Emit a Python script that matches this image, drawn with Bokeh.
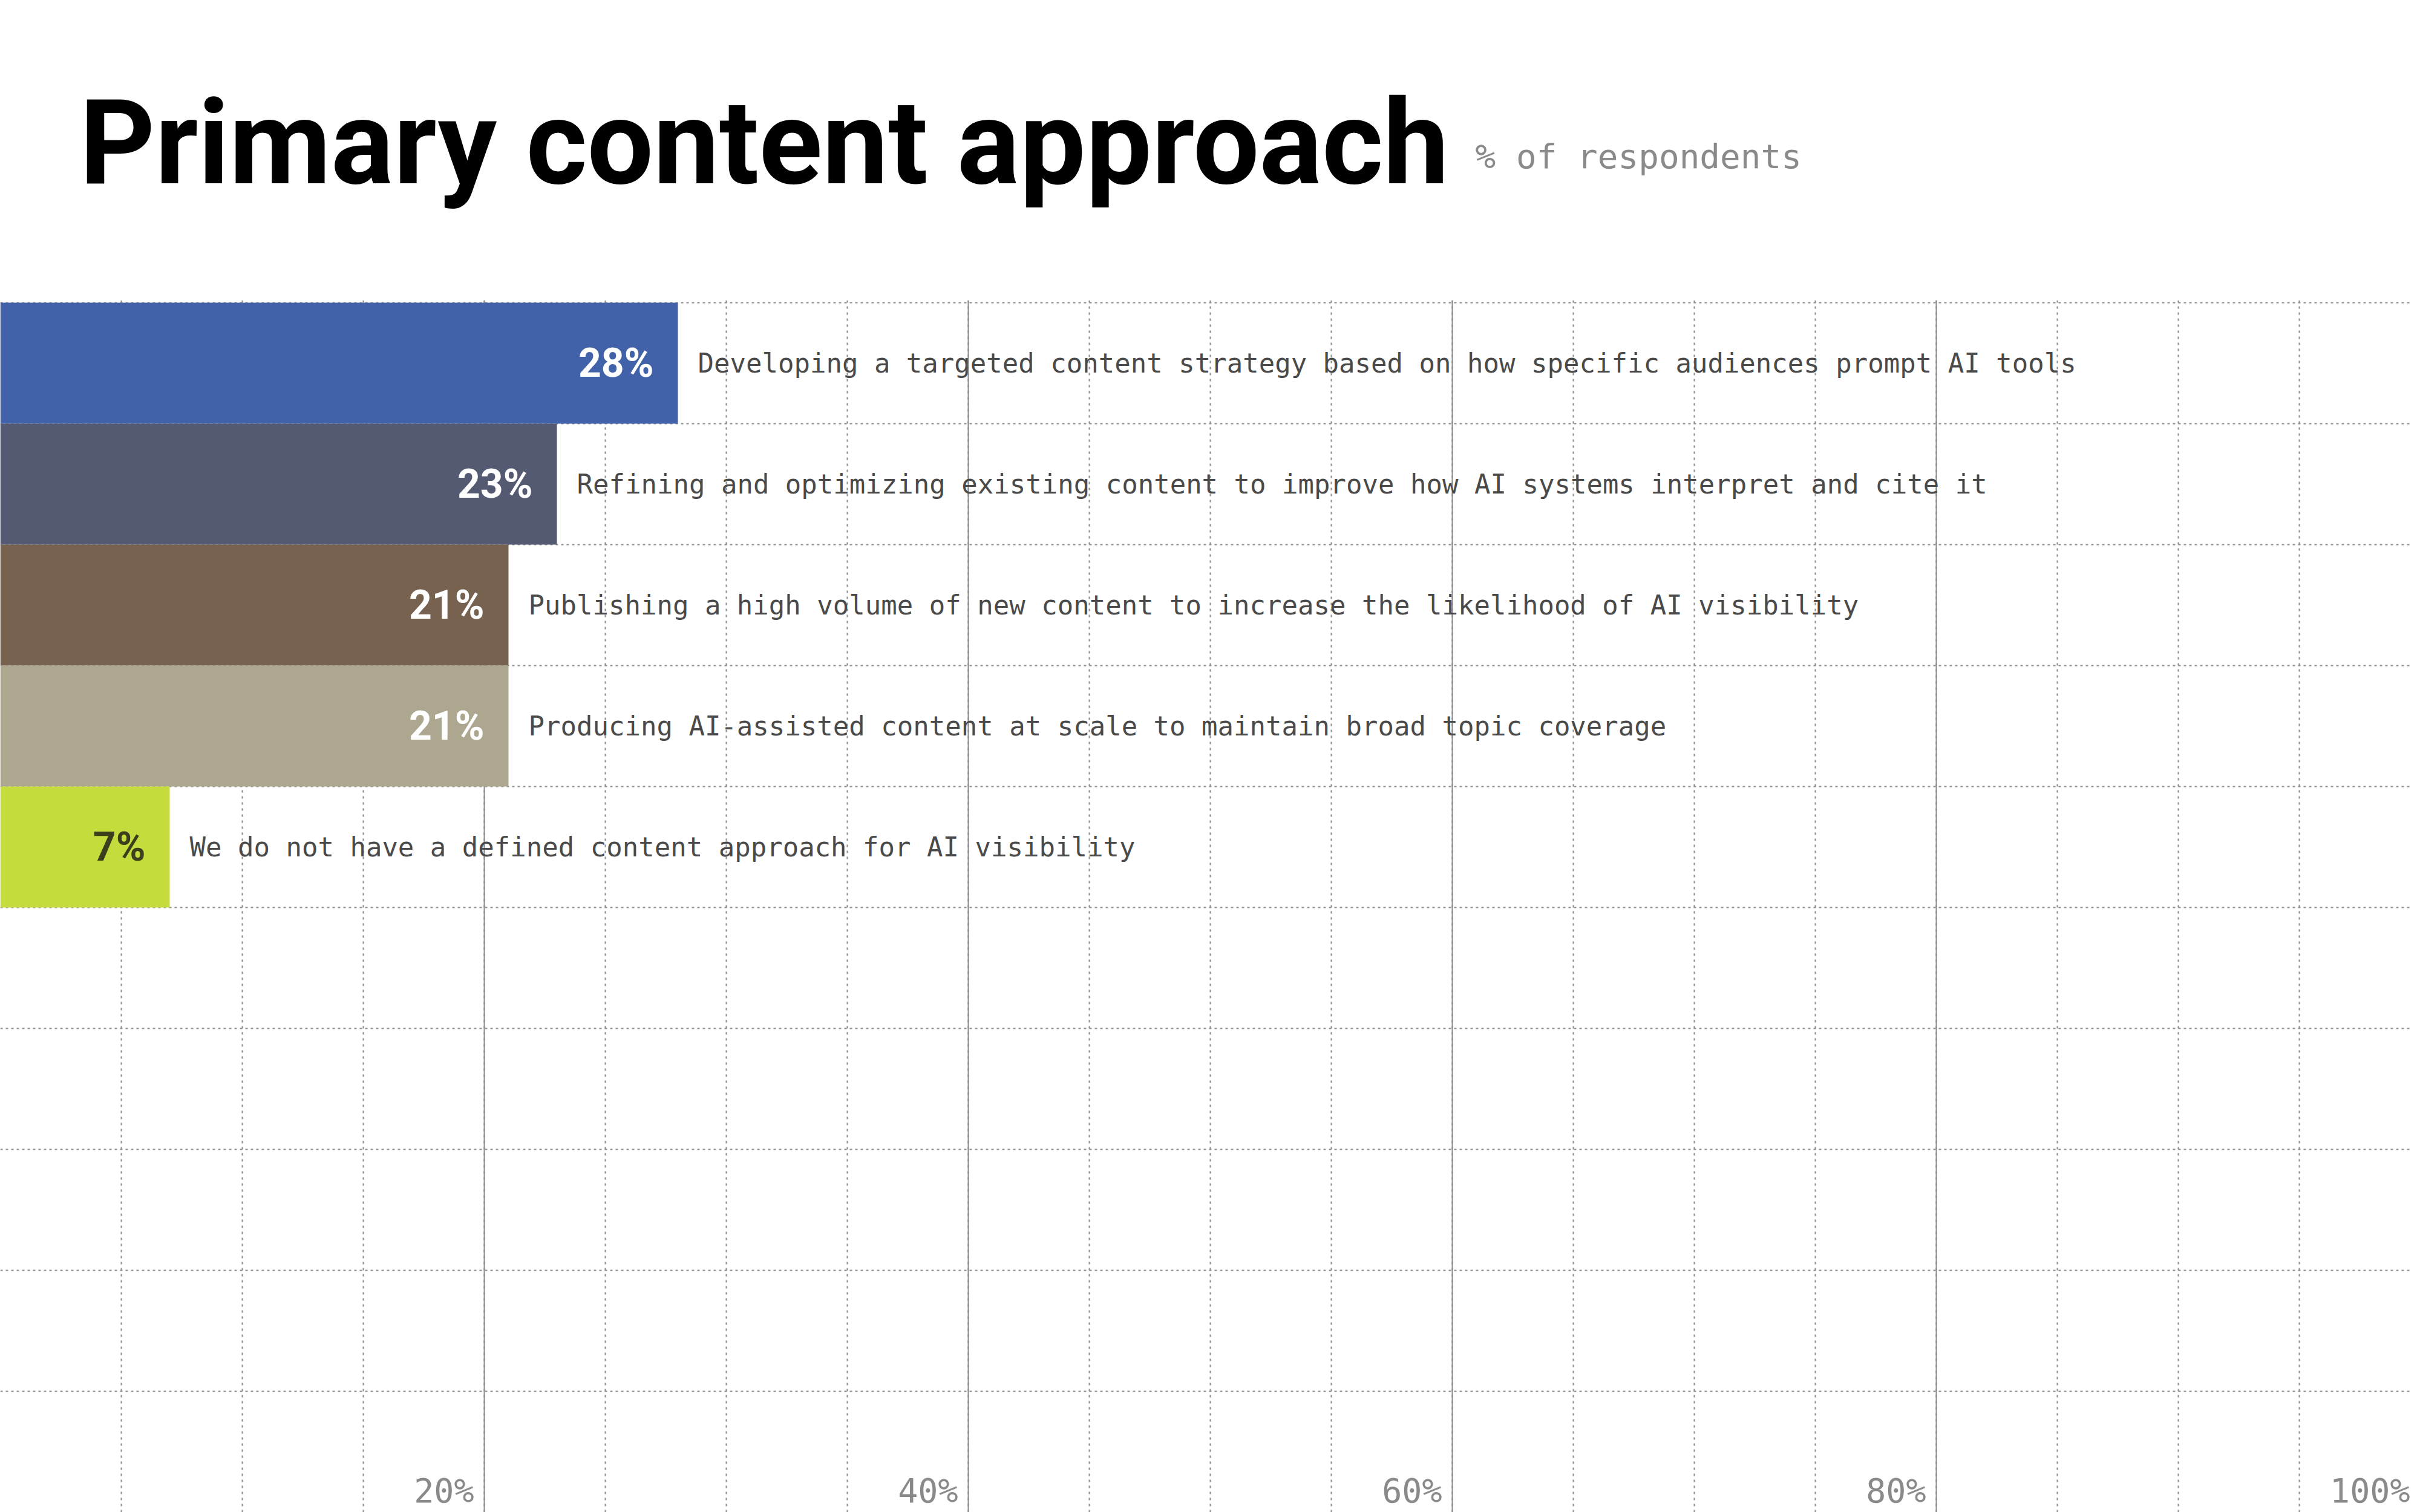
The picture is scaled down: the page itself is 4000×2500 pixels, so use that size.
from bokeh.plotting import figure
from bokeh.models import Range1d, Grid, SingleIntervalTicker, FixedTicker, ColumnDataSource, LabelSet
from bokeh.layouts import column
from bokeh.embed import file_html
from bokeh.resources import INLINE
from bokeh.core.properties import value

# ---- data ----
categories = [
    "Developing a targeted content strategy based on how specific audiences prompt AI tools",
    "Refining and optimizing existing content to improve how AI systems interpret and cite it",
    "Publishing a high volume of new content to increase the likelihood of AI visibility",
    "Producing AI-assisted content at scale to maintain broad topic coverage",
    "We do not have a defined content approach for AI visibility",
]
values = [28, 23, 21, 21, 7]
bar_colors = ["#4161a8", "#535a72", "#76624f", "#ada78f", "#c5dc3c"]
value_label_colors = ["#ffffff", "#ffffff", "#ffffff", "#ffffff", "#3b3f1c"]
tick_values = [20, 40, 60, 80, 100]
tick_labels = ["20%", "40%", "60%", "80%", "100%"]
title_text = "Primary content approach"
subtitle_text = "% of respondents"

W = 3984
TH = 496
MH = 2004
SANS = "Roboto"
MONO = "DejaVu Sans Mono"
GRID_COLOR = "#8c8c8c"

# ---- title strip ----
t = figure(width=W, height=TH, x_range=Range1d(0, W), y_range=Range1d(TH, 0),
           output_backend="svg", toolbar_location=None,
           x_axis_location=None, y_axis_location=None,
           min_border=0, outline_line_color=None)
t.grid.visible = False
t.text(x=[131], y=[236], text=[title_text], text_font=value(SANS), text_font_style="bold",
       text_font_size="194px", text_color="#000000", text_baseline="middle", text_align="left")
t.text(x=[2438], y=[258], text=[subtitle_text], text_font=value(MONO),
       text_font_size="56px", text_color="#8a8a8a", text_baseline="middle", text_align="left")

# ---- main chart ----
p = figure(width=W, height=MH, x_range=Range1d(0, 99.6), y_range=Range1d(10.0, -0.02),
           output_backend="svg", toolbar_location=None,
           x_axis_location=None, y_axis_location=None,
           min_border=0, outline_line_color=None)
p.grid.visible = False

p.add_layout(Grid(dimension=1, ticker=SingleIntervalTicker(interval=1, num_minor_ticks=0),
                  grid_line_color=GRID_COLOR, grid_line_width=2, grid_line_dash="4 5"))
p.add_layout(Grid(dimension=0, ticker=SingleIntervalTicker(interval=5, num_minor_ticks=0),
                  grid_line_color=GRID_COLOR, grid_line_width=2, grid_line_dash="4 6"))
p.add_layout(Grid(dimension=0, ticker=FixedTicker(ticks=tick_values),
                  grid_line_color=GRID_COLOR, grid_line_width=2))

n = len(values)
src = ColumnDataSource(dict(
    y=[i + 0.5 for i in range(n)],
    right=values,
    color=bar_colors,
    cat=categories,
    vlabel=[f"{v}%" for v in values],
    vcolor=value_label_colors,
))

p.hbar(y="y", left=0, right="right", height=1, fill_color="color", line_color=None, source=src)
p.text(x="right", y="y", text="vlabel", x_offset=-40, text_align="right", text_baseline="middle",
       text_color="vcolor", text_font=value(SANS), text_font_style="bold",
       text_font_size="66px", source=src)
p.text(x="right", y="y", text="cat", x_offset=33, text_align="left", text_baseline="middle",
       text_color="#4a4a4a", text_font=value(MONO), text_font_size="44px", source=src)

tsrc = ColumnDataSource(dict(x=tick_values, y=[9.82] * len(tick_values), text=tick_labels))
p.add_layout(LabelSet(x="x", y="y", text="text", source=tsrc, x_offset=-17,
                      text_align="right", text_baseline="middle",
                      text_font=value(MONO), text_font_size="55px", text_color="#8a8a8a"))

layout = column(t, p, spacing=0)
open("out.html", "w").write(file_html(layout, INLINE))
